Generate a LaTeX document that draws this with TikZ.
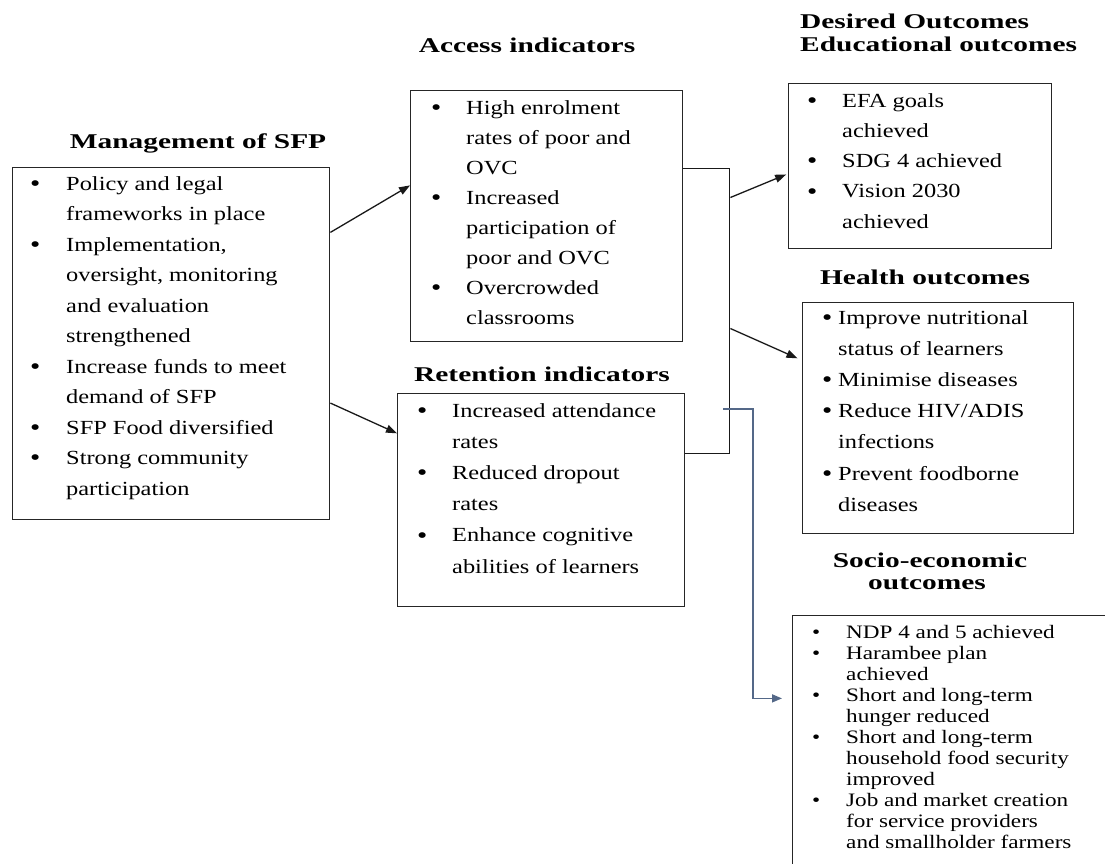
\documentclass[tikz,border=0pt]{standalone}
\usepackage{fontspec}
\setmainfont{Liberation Serif}[FakeStretch=1.22,BoldFeatures={FakeStretch=1.4}]
\usetikzlibrary{arrows.meta,calc}
\definecolor{slateblue}{RGB}{84,104,136}
\newcommand\Bul{\smash{\raisebox{-1.3pt}{\fontsize{24pt}{24pt}\selectfont\textbullet}}}
\newcommand\BI[2][35pt]{\hbox{\hbox to #1{\Bul\hfil}#2}}
\newcommand\SBI[2][34pt]{\hbox{\hbox to #1{\textbullet\hfil}#2}}
\newcommand\CI[2][35pt]{\hbox{\hskip#1\relax #2}}
\newcommand\Lines[2]{\vtop{\baselineskip=#1\lineskiplimit=-100pt\lineskip=0pt #2}}
\begin{document}
\begin{tikzpicture}[x=1pt,y=-1pt,
  box/.style={draw=black!85, line width=1.4pt, inner sep=0pt, anchor=north west},
  txt/.style={inner sep=0pt, anchor=base west, font=\fontsize{20pt}{24pt}\selectfont},
  smalltxt/.style={inner sep=0pt, anchor=base west, font=\fontsize{19pt}{21pt}\selectfont},
  ttl/.style={inner sep=0pt, anchor=base, font=\fontsize{21pt}{25pt}\selectfont\bfseries},
  arr/.style={line width=1.3pt, draw=black!90, -{Triangle[length=11pt,width=8pt]}},
  blu/.style={line width=1.6pt, draw=slateblue, -{Triangle[length=10pt,width=8pt]}}]
\useasboundingbox (0,0) rectangle (1105,863);
\fill[white] (0,0) rectangle (1105,863);
\clip (0,0) rectangle (1105,863);

% boxes
\node[box, minimum width=317pt, minimum height=352pt] (mgmt) at (12,167) {};
\node[box, minimum width=272pt, minimum height=251pt] (acc) at (410,90) {};
\node[box, minimum width=287pt, minimum height=213pt] (ret) at (397,393) {};
\node[box, minimum width=263pt, minimum height=165pt] (edu) at (788,83) {};
\node[box, minimum width=271pt, minimum height=231pt] (hea) at (802,302) {};
\node[box, minimum width=330pt, minimum height=260pt] (soc) at (792,615) {};

% titles
\node[ttl] (tmgmt) at (198,148) {Management of SFP};
\node[ttl] (tacc) at (527,52) {Access indicators};
\node[ttl] (tret) at (542,381) {Retention indicators};
\node[ttl, anchor=base west] (tdes) at (800,28) {Desired Outcomes};
\node[ttl, anchor=base west] (tedu) at (800,51) {Educational outcomes};
\node[ttl] (thea) at (925,284) {Health outcomes};
\node[ttl] (tsoc1) at (930,567) {Socio-economic};
\node[ttl] (tsoc2) at (927,589) {outcomes};

% texts
\node[txt] (xmgmt) at (30,190) {\Lines{30.5pt}{%
  \BI[36pt]{Policy and legal}
  \CI[36pt]{frameworks in place}
  \BI[36pt]{Implementation,}
  \CI[36pt]{oversight, monitoring}
  \CI[36pt]{and evaluation}
  \CI[36pt]{strengthened}
  \BI[36pt]{Increase funds to meet}
  \CI[36pt]{demand of SFP}
  \BI[36pt]{SFP Food diversified}
  \BI[36pt]{Strong community}
  \CI[36pt]{participation}}};
\node[txt] (xacc) at (431,114) {\Lines{30.1pt}{%
  \BI{High enrolment}
  \CI{rates of poor and}
  \CI{OVC}
  \BI{Increased}
  \CI{participation of}
  \CI{poor and OVC}
  \BI{Overcrowded}
  \CI{classrooms}}};
\node[txt] (xret) at (417,417) {\Lines{31.2pt}{%
  \BI{Increased attendance}
  \CI{rates}
  \BI{Reduced dropout}
  \CI{rates}
  \BI{Enhance cognitive}
  \CI{abilities of learners}}};
\node[txt] (xedu) at (807,107) {\Lines{30.25pt}{%
  \BI{EFA goals}
  \CI{achieved}
  \BI{SDG 4 achieved}
  \BI{Vision 2030}
  \CI{achieved}}};
\node[txt] (xhea) at (822,324) {\Lines{31.2pt}{%
  \BI[16pt]{Improve nutritional}
  \CI[16pt]{status of learners}
  \BI[16pt]{Minimise diseases}
  \BI[16pt]{Reduce HIV/ADIS}
  \CI[16pt]{infections}
  \BI[16pt]{Prevent foodborne}
  \CI[16pt]{diseases}}};
\node[smalltxt] (xsoc) at (812,638) {\Lines{21pt}{%
  \SBI{NDP 4 and 5 achieved}
  \SBI{Harambee plan}
  \CI[34pt]{achieved}
  \SBI{Short and long-term}
  \CI[34pt]{hunger reduced}
  \SBI{Short and long-term}
  \CI[34pt]{household food security}
  \CI[34pt]{improved}
  \SBI{Job and market creation}
  \CI[34pt]{for service providers}
  \CI[34pt]{and smallholder farmers}}};

% connectors
\draw[arr] ($(mgmt.north east)!0.185!(mgmt.south east)$) -- ($(acc.north west)!0.378!(acc.south west)$);
\draw[arr] ($(mgmt.north east)!0.668!(mgmt.south east)$) -- ($(ret.north west)!0.188!(ret.south west)$);
\draw[line width=1.3pt, draw=black!90] ($(acc.north east)!0.311!(acc.south east)$) -- ++(46,0) coordinate (bt) |- ($(ret.north east)!0.282!(ret.south east)$);
\coordinate (eo) at ($(bt)+(1,29)$);
\coordinate (ho) at ($(bt)+(1,160)$);
\draw[arr, shorten >=2pt] (eo) -- ($(edu.north west)!0.545!(edu.south west)$);
\draw[arr, shorten >=5pt] (ho) -- ($(hea.north west)!0.251!(hea.south west)$);
\coordinate (bs) at (723,409);
\draw[blu, shorten >=10pt] (bs) -- ++(30,0) |- ($(soc.north west)!0.319!(soc.south west)$);
\end{tikzpicture}
\end{document}
